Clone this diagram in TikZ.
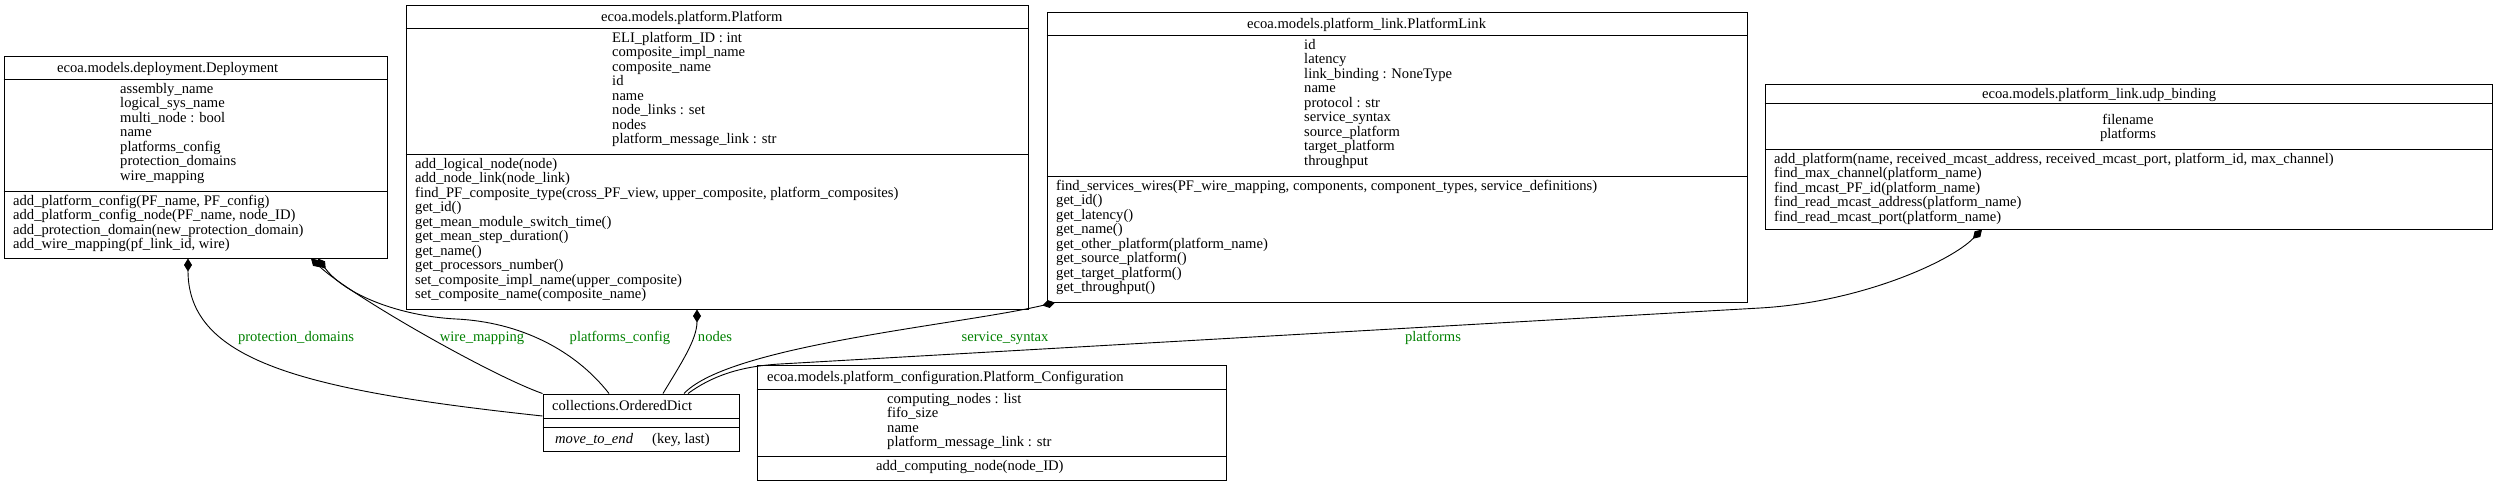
\documentclass[tikz,border=0pt]{standalone}
\usepackage{fontspec}
\setmainfont{Liberation Serif}
\usetikzlibrary{arrows.meta,fit}
\definecolor{lblgreen}{RGB}{0,128,0}
\tikzset{
  clsbox/.style={draw=black, line width=1pt, inner sep=0pt},
  sepline/.style={draw=black, line width=1pt},
  txt/.style={inner sep=0pt, anchor=base west, align=left, font=\fontsize{14.6}{14.5}\selectfont},
  ctxt/.style={inner sep=0pt, anchor=base, align=center, font=\fontsize{14.6}{14.5}\selectfont},
  lbl/.style={inner sep=0pt, anchor=base, text=lblgreen, font=\fontsize{14.6}{14.5}\selectfont},
  comp/.style={draw=black, line width=0.9pt, -{Diamond[length=13pt,width=8pt]}},
}
\newcommand\umlcls[7]{%
  \node[clsbox, fit={(#2,#3)(#4,#5)}] (#1) {};
  \draw[sepline] (#1.west |- 0,#6) -- (#1.east |- 0,#6);
  \draw[sepline] (#1.west |- 0,#7) -- (#1.east |- 0,#7);
}
\begin{document}
\begin{tikzpicture}[x=1pt,y=-1pt]
\useasboundingbox (0,0) rectangle (2500,485);
% (multi-line text nodes are placed by the baseline of their last line)

% Deployment
\umlcls{dep}{4}{56}{387}{258}{79}{191}
\node[txt] (dep-t) at (57,72) {ecoa.models.deployment.Deployment};
\node[txt] (dep-a) at (120,180) {assembly\_name\\logical\_sys\_name\\multi\_node : bool\\name\\platforms\_config\\protection\_domains\\wire\_mapping};
\node[txt] (dep-m) at (13,248.5) {add\_platform\_config(PF\_name, PF\_config)\\add\_platform\_config\_node(PF\_name, node\_ID)\\add\_protection\_domain(new\_protection\_domain)\\add\_wire\_mapping(pf\_link\_id, wire)};

% Platform
\umlcls{plat}{406}{5}{1028}{309}{28}{154}
\node[txt] (plat-t) at (601,21) {ecoa.models.platform.Platform};
\node[txt] (plat-a) at (612,143.5) {ELI\_platform\_ID : int\\composite\_impl\_name\\composite\_name\\id\\name\\node\_links : set\\nodes\\platform\_message\_link : str};
\node[txt] (plat-m) at (415,298.5) {add\_logical\_node(node)\\add\_node\_link(node\_link)\\find\_PF\_composite\_type(cross\_PF\_view, upper\_composite, platform\_composites)\\get\_id()\\get\_mean\_module\_switch\_time()\\get\_mean\_step\_duration()\\get\_name()\\get\_processors\_number()\\set\_composite\_impl\_name(upper\_composite)\\set\_composite\_name(composite\_name)};

% PlatformLink
\umlcls{plink}{1047}{12}{1747}{302}{35}{176}
\node[txt] (plink-t) at (1247,28) {ecoa.models.platform\_link.PlatformLink};
\node[txt] (plink-a) at (1304,165) {id\\latency\\link\_binding : NoneType\\name\\protocol : str\\service\_syntax\\source\_platform\\target\_platform\\throughput};
\node[txt] (plink-m) at (1056,291.5) {find\_services\_wires(PF\_wire\_mapping, components, component\_types, service\_definitions)\\get\_id()\\get\_latency()\\get\_name()\\get\_other\_platform(platform\_name)\\get\_source\_platform()\\get\_target\_platform()\\get\_throughput()};

% udp_binding
\umlcls{udp}{1765}{84}{2492}{229}{103}{149}
\node[txt] (udp-t) at (1982,98) {ecoa.models.platform\_link.udp\_binding};
\node[ctxt] (udp-a) at (2128,138.5) {filename\\platforms};
\node[txt] (udp-m) at (1774,221) {add\_platform(name, received\_mcast\_address, received\_mcast\_port, platform\_id, max\_channel)\\find\_max\_channel(platform\_name)\\find\_mcast\_PF\_id(platform\_name)\\find\_read\_mcast\_address(platform\_name)\\find\_read\_mcast\_port(platform\_name)};

% OrderedDict
\umlcls{od}{543}{394}{739}{451}{418}{427}
\node[txt] (od-t) at (552,410) {collections.OrderedDict};
\node[txt] (od-m1) at (555,443) {\textit{move\_to\_end}};
\node[txt] (od-m2) at (652,443) {(key, last)};

% Platform_Configuration
\umlcls{pc}{757}{365}{1226}{480}{389}{456}
\node[txt] (pc-t) at (767,381) {ecoa.models.platform\_configuration.Platform\_Configuration};
\node[txt] (pc-a) at (887,446.5) {computing\_nodes : list\\fifo\_size\\name\\platform\_message\_link : str};
\node[txt] (pc-m) at (876,470) {add\_computing\_node(node\_ID)};

% connectors
\draw[comp] (od.west |- 0,416) .. controls (300,390) and (188,360) .. (dep.south -| 188,0);
\draw[comp] (od.north west) .. controls (490,375) and (350,295) .. (dep.south -| 311,0);
\draw[comp] (od.north -| 609,0) .. controls (575,350) and (520,322) .. (456,319) .. controls (400,316) and (345,295) .. (dep.south -| 318,0);
\draw[comp] (od.north -| 663,0) .. controls (680,365) and (697,340) .. (plat.south -| 697,0);
\draw[comp] (od.north -| 684,0) .. controls (730,345) and (960,325) .. (plink.south -| 1055,0);
\draw[comp] (od.north -| 688,0) .. controls (712,376) and (740,366.3) .. (780,364) -- (1760,308) .. controls (1860,302.3) and (1950,262) .. (udp.south -| 1982,0);

% labels
\node[lbl] (l-pd) at (296,341) {protection\_domains};
\node[lbl] (l-wm) at (482,341) {wire\_mapping};
\node[lbl] (l-pc) at (620,341) {platforms\_config};
\node[lbl] (l-no) at (715,341) {nodes};
\node[lbl] (l-ss) at (1005,341) {service\_syntax};
\node[lbl] (l-pf) at (1433,341) {platforms};
\end{tikzpicture}
\end{document}
